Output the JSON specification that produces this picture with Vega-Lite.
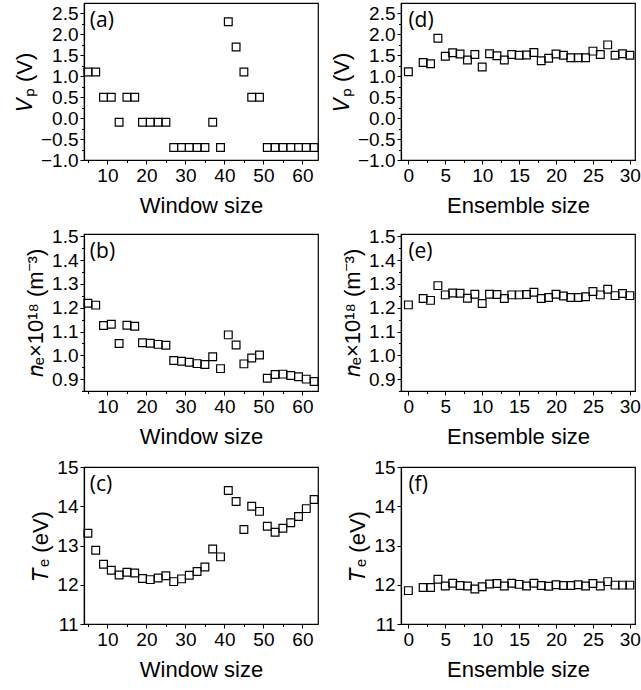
{
  "$schema": "https://vega.github.io/schema/vega-lite/v6.json",
  "padding": {"left": 12, "top": 2, "right": 2, "bottom": 2},
  "background": "white",
  "datasets": {
    "left": [
      {"w": 5, "vp": 1.1, "ne": 1.219, "te": 13.31},
      {"w": 7, "vp": 1.1, "ne": 1.211, "te": 12.88},
      {"w": 9, "vp": 0.5, "ne": 1.125, "te": 12.52},
      {"w": 11, "vp": 0.5, "ne": 1.131, "te": 12.37},
      {"w": 13, "vp": -0.1, "ne": 1.05, "te": 12.25},
      {"w": 15, "vp": 0.5, "ne": 1.126, "te": 12.32},
      {"w": 17, "vp": 0.5, "ne": 1.122, "te": 12.30},
      {"w": 19, "vp": -0.1, "ne": 1.053, "te": 12.16},
      {"w": 21, "vp": -0.1, "ne": 1.051, "te": 12.13},
      {"w": 23, "vp": -0.1, "ne": 1.046, "te": 12.17},
      {"w": 25, "vp": -0.1, "ne": 1.042, "te": 12.23},
      {"w": 27, "vp": -0.7, "ne": 0.978, "te": 12.08},
      {"w": 29, "vp": -0.7, "ne": 0.975, "te": 12.15},
      {"w": 31, "vp": -0.7, "ne": 0.971, "te": 12.24},
      {"w": 33, "vp": -0.7, "ne": 0.965, "te": 12.34},
      {"w": 35, "vp": -0.7, "ne": 0.961, "te": 12.45},
      {"w": 37, "vp": -0.1, "ne": 0.994, "te": 12.91},
      {"w": 39, "vp": -0.7, "ne": 0.944, "te": 12.71},
      {"w": 41, "vp": 2.3, "ne": 1.086, "te": 14.40},
      {"w": 43, "vp": 1.7, "ne": 1.043, "te": 14.12},
      {"w": 45, "vp": 1.1, "ne": 0.964, "te": 13.41},
      {"w": 47, "vp": 0.5, "ne": 0.989, "te": 14.00},
      {"w": 49, "vp": 0.5, "ne": 1.001, "te": 13.87},
      {"w": 51, "vp": -0.7, "ne": 0.904, "te": 13.49},
      {"w": 53, "vp": -0.7, "ne": 0.919, "te": 13.34},
      {"w": 55, "vp": -0.7, "ne": 0.921, "te": 13.44},
      {"w": 57, "vp": -0.7, "ne": 0.915, "te": 13.58},
      {"w": 59, "vp": -0.7, "ne": 0.910, "te": 13.74},
      {"w": 61, "vp": -0.7, "ne": 0.900, "te": 13.94},
      {"w": 63, "vp": -0.7, "ne": 0.890, "te": 14.17}
    ],
    "right": [
      {"e": 0, "vp": 1.11, "ne": 1.212, "te": 11.85},
      {"e": 2, "vp": 1.33, "ne": 1.239, "te": 11.93},
      {"e": 3, "vp": 1.30, "ne": 1.231, "te": 11.93},
      {"e": 4, "vp": 1.91, "ne": 1.293, "te": 12.14},
      {"e": 5, "vp": 1.48, "ne": 1.254, "te": 11.97},
      {"e": 6, "vp": 1.56, "ne": 1.262, "te": 12.04},
      {"e": 7, "vp": 1.53, "ne": 1.261, "te": 11.98},
      {"e": 8, "vp": 1.39, "ne": 1.240, "te": 11.97},
      {"e": 9, "vp": 1.52, "ne": 1.257, "te": 11.89},
      {"e": 10, "vp": 1.22, "ne": 1.218, "te": 11.95},
      {"e": 11, "vp": 1.54, "ne": 1.257, "te": 12.02},
      {"e": 12, "vp": 1.49, "ne": 1.256, "te": 12.03},
      {"e": 13, "vp": 1.39, "ne": 1.239, "te": 11.97},
      {"e": 14, "vp": 1.52, "ne": 1.254, "te": 12.04},
      {"e": 15, "vp": 1.50, "ne": 1.254, "te": 12.01},
      {"e": 16, "vp": 1.51, "ne": 1.256, "te": 11.97},
      {"e": 17, "vp": 1.57, "ne": 1.265, "te": 12.04},
      {"e": 18, "vp": 1.37, "ne": 1.239, "te": 11.98},
      {"e": 19, "vp": 1.43, "ne": 1.243, "te": 11.96},
      {"e": 20, "vp": 1.53, "ne": 1.257, "te": 12.00},
      {"e": 21, "vp": 1.50, "ne": 1.249, "te": 11.98},
      {"e": 22, "vp": 1.44, "ne": 1.243, "te": 11.98},
      {"e": 23, "vp": 1.44, "ne": 1.243, "te": 12.00},
      {"e": 24, "vp": 1.44, "ne": 1.246, "te": 11.97},
      {"e": 25, "vp": 1.60, "ne": 1.268, "te": 12.03},
      {"e": 26, "vp": 1.52, "ne": 1.254, "te": 11.97},
      {"e": 27, "vp": 1.75, "ne": 1.278, "te": 12.08},
      {"e": 28, "vp": 1.50, "ne": 1.251, "te": 11.99},
      {"e": 29, "vp": 1.54, "ne": 1.260, "te": 11.99},
      {"e": 30, "vp": 1.50, "ne": 1.251, "te": 11.99}
    ],
    "one": [{"k": 1}]
  },
  "columns": 2,
  "spacing": {"row": 9, "column": 8},
  "concat": [
    {
      "width": 234, "height": 157,
      "layer": [
        {
          "data": {"name": "left"},
          "mark": {"type": "point", "shape": "square", "filled": false, "size": 60, "stroke": "black", "strokeWidth": 1.2, "opacity": 1},
          "encoding": {
            "x": {"field": "w", "type": "quantitative", "scale": {"domain": [4, 64], "nice": false, "zero": false},
              "axis": {"title": "Window size", "tickCount": 100, "format": "d", "values": [5,10,15,20,25,30,35,40,45,50,55,60],
                "labelExpr": "datum.value % 10 == 0 ? datum.label : ''",
                "tickSize": {"condition": {"test": "datum.value % 10 == 0", "value": 4}, "value": 2.5}}},
            "y": {"field": "vp", "type": "quantitative", "scale": {"domain": [-1, 2.75], "nice": false, "zero": false},
              "axis": {"title": "𝑉ₚ (V)", "tickCount": 100, "format": ".1f", "values": [-1,-0.75,-0.5,-0.25,0,0.25,0.5,0.75,1,1.25,1.5,1.75,2,2.25,2.5],
                "labelExpr": "abs(datum.value*2 - round(datum.value*2)) < 0.001 ? datum.label : ''",
                "tickSize": {"condition": {"test": "abs(datum.value*2 - round(datum.value*2)) < 0.001", "value": 4}, "value": 2.5}}}
          }
        },
        {
          "data": {"name": "one"},
          "mark": {"type": "text", "align": "left", "baseline": "middle", "font": "Open Sans", "fontSize": 21, "color": "black"},
          "encoding": {"x": {"datum": 5.5, "type": "quantitative"}, "y": {"datum": 2.33, "type": "quantitative"}, "text": {"value": "(a)"}}
        }
      ]
    },
    {
      "width": 234, "height": 157,
      "layer": [
        {
          "data": {"name": "right"},
          "mark": {"type": "point", "shape": "square", "filled": false, "size": 60, "stroke": "black", "strokeWidth": 1.2, "opacity": 1},
          "encoding": {
            "x": {"field": "e", "type": "quantitative", "scale": {"domain": [-1, 30.7], "nice": false, "zero": false},
              "axis": {"title": "Ensemble size", "tickCount": 100, "format": "d", "values": [0,2.5,5,7.5,10,12.5,15,17.5,20,22.5,25,27.5,30],
                "labelExpr": "datum.value % 5 == 0 ? datum.label : ''",
                "tickSize": {"condition": {"test": "datum.value % 5 == 0", "value": 4}, "value": 2.5}}},
            "y": {"field": "vp", "type": "quantitative", "scale": {"domain": [-1, 2.75], "nice": false, "zero": false},
              "axis": {"title": "𝑉ₚ (V)", "tickCount": 100, "format": ".1f", "values": [-1,-0.75,-0.5,-0.25,0,0.25,0.5,0.75,1,1.25,1.5,1.75,2,2.25,2.5],
                "labelExpr": "abs(datum.value*2 - round(datum.value*2)) < 0.001 ? datum.label : ''",
                "tickSize": {"condition": {"test": "abs(datum.value*2 - round(datum.value*2)) < 0.001", "value": 4}, "value": 2.5}}}
          }
        },
        {
          "data": {"name": "one"},
          "mark": {"type": "text", "align": "left", "baseline": "middle", "font": "Open Sans", "fontSize": 21, "color": "black"},
          "encoding": {"x": {"datum": 0, "type": "quantitative"}, "y": {"datum": 2.33, "type": "quantitative"}, "text": {"value": "(d)"}}
        }
      ]
    },
    {
      "width": 234, "height": 157,
      "layer": [
        {
          "data": {"name": "left"},
          "mark": {"type": "point", "shape": "square", "filled": false, "size": 60, "stroke": "black", "strokeWidth": 1.2, "opacity": 1},
          "encoding": {
            "x": {"field": "w", "type": "quantitative", "scale": {"domain": [4, 64], "nice": false, "zero": false},
              "axis": {"title": "Window size", "tickCount": 100, "format": "d", "values": [5,10,15,20,25,30,35,40,45,50,55,60],
                "labelExpr": "datum.value % 10 == 0 ? datum.label : ''",
                "tickSize": {"condition": {"test": "datum.value % 10 == 0", "value": 4}, "value": 2.5}}},
            "y": {"field": "ne", "type": "quantitative", "scale": {"domain": [0.85, 1.51], "nice": false, "zero": false},
              "axis": {"title": "𝑛ₑ×10¹⁸ (m⁻³)", "tickCount": 100, "format": ".1f", "values": [0.85,0.9,0.95,1,1.05,1.1,1.15,1.2,1.25,1.3,1.35,1.4,1.45,1.5],
                "labelExpr": "abs(datum.value*10 - round(datum.value*10)) < 0.001 ? datum.label : ''",
                "tickSize": {"condition": {"test": "abs(datum.value*10 - round(datum.value*10)) < 0.001", "value": 4}, "value": 2.5}}}
          }
        },
        {
          "data": {"name": "one"},
          "mark": {"type": "text", "align": "left", "baseline": "middle", "font": "Open Sans", "fontSize": 21, "color": "black"},
          "encoding": {"x": {"datum": 5.5, "type": "quantitative"}, "y": {"datum": 1.435, "type": "quantitative"}, "text": {"value": "(b)"}}
        }
      ]
    },
    {
      "width": 234, "height": 157,
      "layer": [
        {
          "data": {"name": "right"},
          "mark": {"type": "point", "shape": "square", "filled": false, "size": 60, "stroke": "black", "strokeWidth": 1.2, "opacity": 1},
          "encoding": {
            "x": {"field": "e", "type": "quantitative", "scale": {"domain": [-1, 30.7], "nice": false, "zero": false},
              "axis": {"title": "Ensemble size", "tickCount": 100, "format": "d", "values": [0,2.5,5,7.5,10,12.5,15,17.5,20,22.5,25,27.5,30],
                "labelExpr": "datum.value % 5 == 0 ? datum.label : ''",
                "tickSize": {"condition": {"test": "datum.value % 5 == 0", "value": 4}, "value": 2.5}}},
            "y": {"field": "ne", "type": "quantitative", "scale": {"domain": [0.85, 1.51], "nice": false, "zero": false},
              "axis": {"title": "𝑛ₑ×10¹⁸ (m⁻³)", "tickCount": 100, "format": ".1f", "values": [0.85,0.9,0.95,1,1.05,1.1,1.15,1.2,1.25,1.3,1.35,1.4,1.45,1.5],
                "labelExpr": "abs(datum.value*10 - round(datum.value*10)) < 0.001 ? datum.label : ''",
                "tickSize": {"condition": {"test": "abs(datum.value*10 - round(datum.value*10)) < 0.001", "value": 4}, "value": 2.5}}}
          }
        },
        {
          "data": {"name": "one"},
          "mark": {"type": "text", "align": "left", "baseline": "middle", "font": "Open Sans", "fontSize": 21, "color": "black"},
          "encoding": {"x": {"datum": 0, "type": "quantitative"}, "y": {"datum": 1.435, "type": "quantitative"}, "text": {"value": "(e)"}}
        }
      ]
    },
    {
      "width": 234, "height": 157,
      "layer": [
        {
          "data": {"name": "left"},
          "mark": {"type": "point", "shape": "square", "filled": false, "size": 60, "stroke": "black", "strokeWidth": 1.2, "opacity": 1},
          "encoding": {
            "x": {"field": "w", "type": "quantitative", "scale": {"domain": [4, 64], "nice": false, "zero": false},
              "axis": {"title": "Window size", "tickCount": 100, "format": "d", "values": [5,10,15,20,25,30,35,40,45,50,55,60],
                "labelExpr": "datum.value % 10 == 0 ? datum.label : ''",
                "tickSize": {"condition": {"test": "datum.value % 10 == 0", "value": 4}, "value": 2.5}}},
            "y": {"field": "te", "type": "quantitative", "scale": {"domain": [11, 15], "nice": false, "zero": false},
              "axis": {"title": "𝑇ₑ (eV)", "tickCount": 100, "format": "d", "values": [11,11.5,12,12.5,13,13.5,14,14.5,15],
                "labelExpr": "datum.value % 1 == 0 ? datum.label : ''",
                "tickSize": {"condition": {"test": "datum.value % 1 == 0", "value": 4}, "value": 2.5}}}
          }
        },
        {
          "data": {"name": "one"},
          "mark": {"type": "text", "align": "left", "baseline": "middle", "font": "Open Sans", "fontSize": 21, "color": "black"},
          "encoding": {"x": {"datum": 5.5, "type": "quantitative"}, "y": {"datum": 14.55, "type": "quantitative"}, "text": {"value": "(c)"}}
        }
      ]
    },
    {
      "width": 234, "height": 157,
      "layer": [
        {
          "data": {"name": "right"},
          "mark": {"type": "point", "shape": "square", "filled": false, "size": 60, "stroke": "black", "strokeWidth": 1.2, "opacity": 1},
          "encoding": {
            "x": {"field": "e", "type": "quantitative", "scale": {"domain": [-1, 30.7], "nice": false, "zero": false},
              "axis": {"title": "Ensemble size", "tickCount": 100, "format": "d", "values": [0,2.5,5,7.5,10,12.5,15,17.5,20,22.5,25,27.5,30],
                "labelExpr": "datum.value % 5 == 0 ? datum.label : ''",
                "tickSize": {"condition": {"test": "datum.value % 5 == 0", "value": 4}, "value": 2.5}}},
            "y": {"field": "te", "type": "quantitative", "scale": {"domain": [11, 15], "nice": false, "zero": false},
              "axis": {"title": "𝑇ₑ (eV)", "tickCount": 100, "format": "d", "values": [11,11.5,12,12.5,13,13.5,14,14.5,15],
                "labelExpr": "datum.value % 1 == 0 ? datum.label : ''",
                "tickSize": {"condition": {"test": "datum.value % 1 == 0", "value": 4}, "value": 2.5}}}
          }
        },
        {
          "data": {"name": "one"},
          "mark": {"type": "text", "align": "left", "baseline": "middle", "font": "Open Sans", "fontSize": 21, "color": "black"},
          "encoding": {"x": {"datum": 0, "type": "quantitative"}, "y": {"datum": 14.55, "type": "quantitative"}, "text": {"value": "(f)"}}
        }
      ]
    }
  ],
  "config": {
    "view": {"stroke": "black", "strokeWidth": 1.2},
    "axis": {
      "grid": false,
      "domainColor": "black",
      "domainWidth": 1.2,
      "tickColor": "black",
      "tickWidth": 1,
      "labelColor": "black",
      "titleColor": "black",
      "labelFont": "Liberation Sans",
      "labelFontSize": 19,
      "labelPadding": 2,
      "labelOverlap": false,
      "titleFont": "Liberation Sans",
      "titleFontSize": 22,
      "titleFontWeight": "normal",
      "labelFlush": false
    },
    "axisX": {"titlePadding": 10},
    "axisY": {"titlePadding": 4}
  }
}
